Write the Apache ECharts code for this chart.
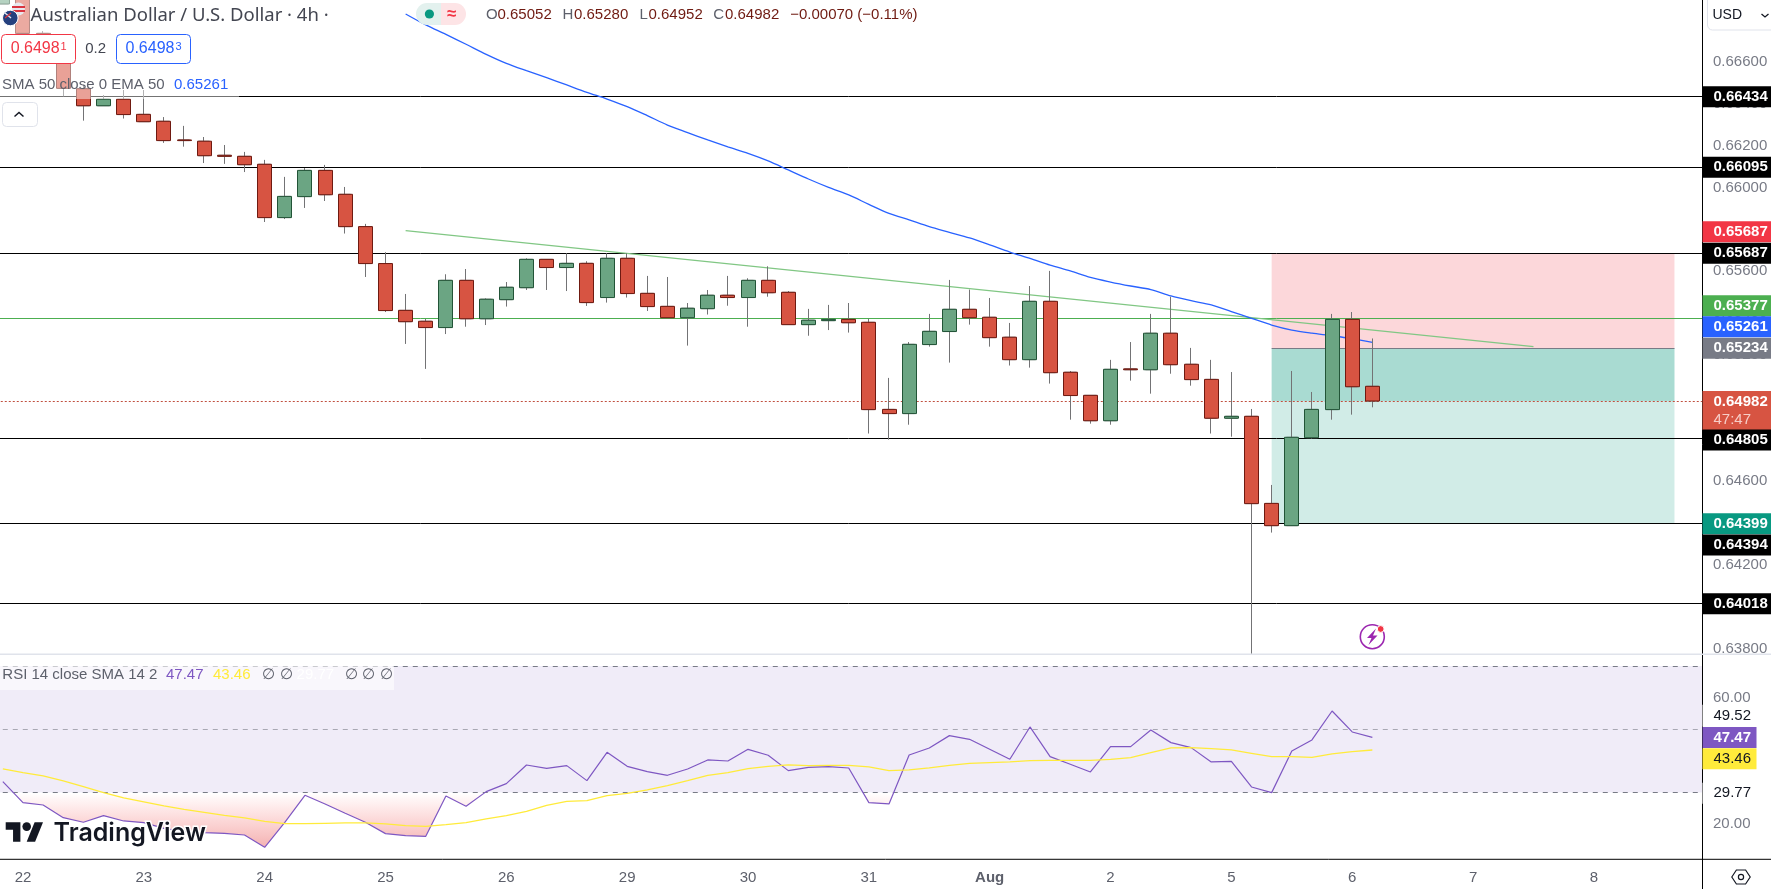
<!DOCTYPE html>
<html>
<head>
<meta charset="utf-8">
<title>AUD/USD 4h</title>
<script src="https://cdn.jsdelivr.net/npm/echarts@6/dist/echarts.min.js"></script>
<style>
  html, body { margin: 0; padding: 0; background: #fff; overflow: hidden; }
  /* first bars are cut by the left edge, so the canvas starts a bit off screen */
  #main { width: 1779px; height: 889px; margin-left: -8px; }
</style>
</head>
<body>
<div id="main"></div>
<script>
// values
const dayLabels = ['22', '23', '24', '25', '26', '29', '30', '31', 'Aug', '2', '5', '6', '7', '8']
const priceTicks = [0.666, 0.664, 0.662, 0.66, 0.658, 0.656, 0.654, 0.652, 0.65, 0.648, 0.646, 0.644, 0.642, 0.64, 0.638]
const rsiTicks = [60, 20]

const candleOpen = [0.66874, 0.66901, 0.66734, 0.66655, 0.6647, 0.66389, 0.6642, 0.66348, 0.66315, 0.66226, 0.6622, 0.66153, 0.66148, 0.6611, 0.65856, 0.65956, 0.66081, 0.65967, 0.65813, 0.65637, 0.65414, 0.65362, 0.65332, 0.65557, 0.65374, 0.65465, 0.65522, 0.65657, 0.65618, 0.65638, 0.65475, 0.65662, 0.65495, 0.65433, 0.65379, 0.65422, 0.65486, 0.65475, 0.65557, 0.655, 0.65346, 0.65365, 0.65371, 0.65357, 0.64942, 0.64922, 0.65251, 0.65313, 0.65419, 0.65381, 0.65286, 0.65179, 0.65457, 0.65119, 0.65009, 0.64888, 0.65135, 0.65131, 0.65305, 0.65157, 0.65085, 0.649, 0.64909, 0.64494, 0.64388, 0.64807, 0.64941, 0.65371, 0.65052]
const candleClose = [0.66909, 0.66734, 0.66655, 0.66472, 0.66389, 0.6642, 0.66347, 0.66313, 0.66223, 0.66223, 0.66151, 0.66148, 0.66108, 0.65856, 0.65957, 0.66081, 0.65965, 0.65813, 0.65637, 0.65413, 0.6536, 0.65332, 0.65557, 0.65374, 0.65467, 0.65524, 0.65657, 0.65618, 0.65638, 0.65451, 0.65662, 0.65494, 0.65432, 0.65379, 0.65424, 0.65486, 0.65475, 0.65557, 0.65498, 0.65346, 0.65367, 0.65371, 0.65355, 0.64941, 0.64922, 0.65252, 0.65314, 0.65419, 0.65379, 0.65284, 0.65179, 0.65457, 0.65117, 0.65008, 0.64888, 0.65133, 0.65131, 0.65305, 0.65155, 0.65084, 0.649, 0.64909, 0.64493, 0.64388, 0.64809, 0.64942, 0.65371, 0.6505, 0.64982]
const candleLow = [0.66874, 0.6672, 0.6664, 0.66434, 0.66318, 0.66389, 0.66328, 0.66313, 0.66212, 0.66194, 0.66116, 0.66112, 0.66073, 0.65835, 0.65849, 0.65902, 0.65935, 0.6578, 0.65573, 0.65406, 0.65254, 0.65135, 0.65301, 0.65336, 0.65344, 0.65432, 0.65511, 0.65511, 0.65506, 0.65435, 0.65451, 0.65475, 0.65411, 0.65379, 0.65246, 0.65394, 0.65436, 0.65336, 0.65479, 0.65346, 0.65293, 0.6532, 0.65308, 0.64827, 0.64798, 0.64869, 0.65241, 0.65165, 0.65346, 0.65241, 0.65151, 0.65141, 0.65065, 0.64893, 0.64874, 0.64869, 0.65079, 0.65017, 0.65112, 0.65055, 0.64827, 0.64812, 0.63777, 0.64355, 0.64388, 0.64803, 0.64893, 0.64917, 0.64952]
const candleHigh = [0.66912, 0.66901, 0.66745, 0.6667, 0.6649, 0.6644, 0.66464, 0.66464, 0.66335, 0.66293, 0.6624, 0.66202, 0.66169, 0.66131, 0.6605, 0.66092, 0.66107, 0.66002, 0.65826, 0.65691, 0.65492, 0.65373, 0.65586, 0.65611, 0.65471, 0.65549, 0.65662, 0.65657, 0.65686, 0.65648, 0.65686, 0.65686, 0.65578, 0.65573, 0.65449, 0.65511, 0.65578, 0.65567, 0.65624, 0.65506, 0.65421, 0.6544, 0.65449, 0.65374, 0.65092, 0.65263, 0.65397, 0.65559, 0.65513, 0.65473, 0.65354, 0.6553, 0.65602, 0.65125, 0.65009, 0.65178, 0.65263, 0.65397, 0.65479, 0.65235, 0.65178, 0.6512, 0.64944, 0.64582, 0.65125, 0.65025, 0.65397, 0.65406, 0.6528]

// EMA 50 only starts at bar 20 on this view
const emaValues = [null, null, null, null, null, null, null, null, null, null, null, null, null, null, null, null, null, null, null, null, 0.66826, 0.66774, 0.66729, 0.66682, 0.66634, 0.66591, 0.66556, 0.66523, 0.66488, 0.66453, 0.66421, 0.66385, 0.66342, 0.66297, 0.66261, 0.66226, 0.66193, 0.66162, 0.66126, 0.66083, 0.6604, 0.66, 0.65964, 0.65919, 0.65876, 0.65845, 0.65813, 0.65786, 0.65759, 0.65726, 0.65692, 0.65662, 0.6563, 0.65602, 0.65571, 0.65549, 0.6553, 0.65513, 0.65483, 0.6546, 0.6544, 0.65408, 0.65376, 0.65344, 0.6532, 0.65305, 0.65293, 0.65279, 0.65261]
const rsiValues = [33.47, 26.83, 26.09, 22.09, 20.62, 22.72, 21.04, 20.51, 18.72, 17.67, 17.35, 17.14, 16.61, 12.72, 20.62, 29.15, 26.41, 23.46, 20.62, 17.04, 16.4, 16.19, 28.94, 25.67, 30.31, 32.83, 38.73, 37.68, 38.52, 33.78, 42.73, 38.31, 36.62, 35.47, 37.47, 40.31, 39.99, 43.68, 41.79, 36.94, 37.99, 38.2, 37.78, 26.83, 26.41, 41.89, 44.1, 48, 46.84, 43.68, 40.52, 50.74, 41.36, 38.94, 36.52, 44.52, 44.52, 49.79, 45.79, 44.21, 39.68, 39.89, 31.78, 29.99, 43.15, 46.63, 55.79, 49.16, 47.47]
const rsiSmaValues = [37.47, 36.31, 35.26, 33.68, 31.89, 29.99, 28.3, 27.04, 25.78, 24.72, 23.78, 22.83, 21.99, 20.93, 20.19, 20.19, 20.3, 20.41, 20.41, 20.09, 19.56, 19.35, 19.88, 20.51, 21.67, 22.72, 24.09, 25.99, 27.25, 27.46, 29.04, 29.78, 30.83, 32.2, 33.78, 35.47, 36.31, 37.57, 38.31, 38.73, 38.52, 38.63, 38.63, 38.1, 36.94, 37.15, 37.78, 38.63, 39.26, 39.47, 39.68, 40.1, 40.21, 40.21, 40.21, 40.52, 41.05, 42.63, 44.1, 44.21, 43.89, 43.47, 42.42, 41.36, 41.36, 41.15, 42.21, 42.94, 43.46]

const blackLevels = [0.66434, 0.66095, 0.65687, 0.64805, 0.64399, 0.64018]
const greenLevel = 0.65377
const lastPrice = 0.64982
const entryPrice = 0.65234
const stopPrice = 0.65687
const targetPrice = 0.64399
const trendFrom = [20, 0.65794]
const trendTo = [76, 0.65241]
const boxFromBar = 63
const boxToBar = 83

// layout
const SHIFT = 8
const BAR_STEP = 20.14
const BAR_COUNT = 85
const GRID_LEFT = SHIFT - 7.23
const AXIS_X = 1702.5
const PRICE_BOTTOM = 654.3
const RSI_BOTTOM = 859.3
const FONT = '"Liberation Sans", Arial, sans-serif'
const AXIS_OFFSET = AXIS_X + SHIFT - (GRID_LEFT + BAR_STEP * BAR_COUNT)

const categories = []
const barLabels = []
for (let i = 0; i < BAR_COUNT; i++) {
  categories.push(String(i))
  barLabels.push((i - 1) % 6 === 0 ? dayLabels[(i - 1) / 6] : '')
}

let chart = echarts.init(document.getElementById('main'), null, {renderer: 'canvas'})

const wickData = candleOpen.map((o, i) => [o, candleClose[i], candleLow[i], candleHigh[i]])
const bodyData = candleOpen.map((o, i) => {
  let c = candleClose[i]
  return [o, c, Math.min(o, c), Math.max(o, c)]
})

function hLine(value, color, width, type) {
  return {yAxis: value, lineStyle: {color: color, width: width, type: type || 'solid'}}
}

function txt(text, x, y, fill, size, extra) {
  return {
    type: 'text', x: x, y: y, z: 6, silent: true,
    style: Object.assign({
      text: text, fill: fill,
      font: (extra && extra.weight ? extra.weight + ' ' : '') + size + 'px ' + FONT,
      verticalAlign: 'middle', align: (extra && extra.align) || 'left'
    }, extra && extra.style)
  }
}

function rect(x, y, w, h, fill, z, extra) {
  return {
    type: 'rect', z: z, silent: true,
    shape: {x: x, y: y, width: w, height: h, r: (extra && extra.r) || 0},
    style: {fill: fill, stroke: extra && extra.stroke, lineWidth: extra && extra.stroke ? 1 : 0}
  }
}

function line(x1, y1, x2, y2, color, width, z) {
  return {
    type: 'line', z: z, silent: true,
    shape: {x1: x1, y1: y1, x2: x2, y2: y2},
    style: {stroke: color, lineWidth: width}
  }
}

// price tag on the right axis
function tag(text, bg, color, y, h, w, weight) {
  h = h || 21
  return [
    rect(AXIS_X, y - h / 2, w || 1771 - AXIS_X, h, bg, 10),
    Object.assign(txt(text, 1713.5, y, color, 15, {weight: weight === undefined ? 'bold' : weight}), {z: 11})
  ]
}

let graphicEls = [
  // everything right of the axis stays white
  rect(AXIS_X, 0, 1771 - AXIS_X, 889, '#fff', 3),
  line(AXIS_X, 0, AXIS_X, 889, '#000', 1, 3.5),
  line(0, PRICE_BOTTOM, 1771, PRICE_BOTTOM, '#e0e3eb', 1.5, 3.5),
  line(0, RSI_BOTTOM, 1771, RSI_BOTTOM, '#000', 1, 3.5),

  // translucent legend rows
  rect(0, 0, 345, 33, 'rgba(255,255,255,0.5)', 5),
  rect(0, 33, 239, 66, 'rgba(255,255,255,0.45)', 5),
  rect(0, 665, 394, 25, 'rgba(255,255,255,0.6)', 5),

  // symbol flags
  {type: 'circle', z: 6, silent: true, shape: {cx: 18.4, cy: 9, r: 6.5}, style: {fill: '#e8e8ee'}},
  rect(12, 6, 13, 2, '#d8343f', 6),
  rect(12, 10, 13, 2, '#d8343f', 6),
  {type: 'circle', z: 6, silent: true, shape: {cx: 10.3, cy: 18, r: 7.8}, style: {fill: '#24407e', stroke: '#fff', lineWidth: 1}},
  line(5, 13, 11, 18, '#e8e8ee', 1.4, 7),
  line(11, 13, 5, 18, '#d8343f', 1.2, 7),

  txt('Australian Dollar / U.S. Dollar · 4h ·', 30.6, 16, '#434651', 18, {style: {font: '18.5px "Noto Sans", sans-serif'}}),

  // market status pill
  rect(416, 3, 25, 22, '#e3f1ee', 6, {r: [11, 0, 0, 11]}),
  rect(441, 3, 25, 22, '#fde4e6', 6, {r: [0, 11, 11, 0]}),
  {type: 'circle', z: 7, silent: true, shape: {cx: 429.4, cy: 14, r: 4.6}, style: {fill: '#089981'}},
  txt('≈', 451.6, 14, '#f23645', 17, {weight: 'bold', align: 'center'}),

  // OHLC row
  txt('O', 486, 15, '#5d606b', 15), txt('0.65052', 497.5, 15, '#6f1a11', 15),
  txt('H', 562.6, 15, '#5d606b', 15), txt('0.65280', 574, 15, '#6f1a11', 15),
  txt('L', 639.4, 15, '#5d606b', 15), txt('0.64952', 648.5, 15, '#6f1a11', 15),
  txt('C', 713.3, 15, '#5d606b', 15), txt('0.64982', 725, 15, '#6f1a11', 15),
  txt('−0.00070 (−0.11%)', 790.2, 15, '#6f1a11', 15),

  // sell / buy boxes
  rect(1.5, 34.5, 74, 29, '#fff', 6, {r: 4, stroke: '#f23645'}),
  txt('0.6498', 10.7, 49, '#f23645', 16),
  txt('1', 60.5, 47, '#f23645', 11),
  txt('0.2', 95.7, 49, '#434651', 15, {align: 'center'}),
  rect(116.5, 34.5, 74, 29, '#fff', 6, {r: 4, stroke: '#2962ff'}),
  txt('0.6498', 125.5, 49, '#2962ff', 16),
  txt('3', 175.5, 47, '#2962ff', 11),

  txt('SMA 50 close 0 EMA 50', 2, 85, '#5d606b', 15),
  txt('0.65261', 174, 85, '#2962ff', 15),

  // collapse button
  rect(2.5, 102.5, 35, 24, '#fff', 6, {r: 4, stroke: '#e0e3eb'}),
  {type: 'polyline', z: 7, silent: true, shape: {points: [[14.5, 116.5], [19, 112.5], [23.5, 116.5]]}, style: {stroke: '#131722', lineWidth: 1.5, fill: 'none'}},

  // RSI legend
  txt('RSI 14 close SMA 14 2', 2.3, 675, '#5d606b', 15),
  txt('47.47', 166, 675, '#7e57c2', 15),
  txt('43.46', 213, 675, '#ffeb3b', 15),
  txt('∅', 262, 675, '#5d606b', 15),
  txt('∅', 280, 675, '#5d606b', 15),
  txt('29.77', 296.6, 675, '#fff', 15),
  txt('∅', 345, 675, '#5d606b', 15),
  txt('∅', 362, 675, '#5d606b', 15),
  txt('∅', 380, 675, '#5d606b', 15),

  // watermark logo
  {type: 'polygon', z: 6, silent: true, shape: {points: [[5.7, 822.3], [20.4, 822.3], [20.4, 841.7], [13.05, 841.7], [13.05, 829.8], [5.7, 829.8]]}, style: {fill: '#131722'}},
  {type: 'polygon', z: 6, silent: true, shape: {points: [[26.7, 841.7], [34.6, 822.3], [43, 822.3], [35.1, 841.7]]}, style: {fill: '#131722'}},
  {type: 'circle', z: 6, silent: true, shape: {cx: 26.7, cy: 826.6, r: 4.3}, style: {fill: '#131722'}},
  txt('TradingView', 53.6, 833, '#131722', 25, {
    style: {stroke: '#fff', lineWidth: 3, font: '600 25px Inter, ' + FONT}
  }),

  // USD selector
  rect(1707.5, -6, 70, 36, '#fff', 10, {r: 5, stroke: '#e0e3eb'}),
  Object.assign(txt('USD', 1712.5, 15, '#131722', 14), {z: 11}),
  {type: 'polyline', z: 11, silent: true, shape: {points: [[1761.5, 14], [1765, 17], [1768.5, 14]]}, style: {stroke: '#131722', lineWidth: 1.3, fill: 'none'}},

  // lightning badge
  {type: 'circle', z: 6, silent: true, shape: {cx: 1372.3, cy: 636.7, r: 12}, style: {fill: '#fff', stroke: '#9c27b0', lineWidth: 1.6}},
  {type: 'polygon', z: 7, silent: true, shape: {points: [[1376, 628.5], [1367, 638], [1371.5, 638], [1368.5, 645], [1377.5, 635.5], [1373, 635.5]]}, style: {fill: '#9c27b0'}},
  {type: 'circle', z: 8, silent: true, shape: {cx: 1380.7, cy: 629, r: 3.4}, style: {fill: '#f23645', stroke: '#fff', lineWidth: 1}},

  // settings hexagon
  {type: 'polygon', z: 6, silent: true, shape: {points: [[1731.8, 877], [1736.4, 870], [1745.6, 870], [1750.2, 877], [1745.6, 884], [1736.4, 884]]}, style: {fill: 'none', stroke: '#131722', lineWidth: 1.2}},
  {type: 'circle', z: 6, silent: true, shape: {cx: 1741, cy: 877, r: 2.6}, style: {fill: 'none', stroke: '#131722', lineWidth: 1.2}}
]

graphicEls = graphicEls.concat(
  tag('0.66434', '#000', '#fff', 96.7),
  tag('0.66095', '#000', '#fff', 167.3),
  tag('0.65687', '#f23645', '#fff', 231.7),
  tag('0.65687', '#000', '#fff', 253.3),
  tag('0.65377', '#4caf50', '#fff', 305.7),
  tag('0.65261', '#2962ff', '#fff', 326.7),
  tag('0.65234', '#787b86', '#fff', 348.3),
  [rect(AXIS_X, 391, 1771 - AXIS_X, 39, '#d75442', 10),
    Object.assign(txt('0.64982', 1713.5, 401.5, '#fff', 15, {weight: 'bold'}), {z: 11}),
    Object.assign(txt('47:47', 1713.5, 419.5, '#f7cdc7', 15), {z: 11})],
  tag('0.64805', '#000', '#fff', 440),
  tag('0.64399', '#089981', '#fff', 523.7),
  tag('0.64394', '#000', '#fff', 545),
  tag('0.64018', '#000', '#fff', 603.7),
  tag('49.52', '#fff', '#131722', 715.7, 22, 0, ''),
  tag('47.47', '#7e57c2', '#fff', 737.6, 21, 54),
  tag('43.46', '#ffeb3b', '#131722', 758.7, 21, 54, ''),
  tag('29.77', '#fff', '#131722', 793.3, 21, 0, '')
)

const option = {
  animation: false,
  backgroundColor: '#fff',
  textStyle: {fontFamily: FONT},
  grid: [
    {left: GRID_LEFT, width: BAR_STEP * BAR_COUNT, top: 0, height: PRICE_BOTTOM},
    {left: GRID_LEFT, width: BAR_STEP * BAR_COUNT, top: PRICE_BOTTOM, height: RSI_BOTTOM - PRICE_BOTTOM}
  ],
  xAxis: [
    {type: 'category', gridIndex: 0, data: categories, show: false},
    {
      type: 'category', gridIndex: 1, data: categories,
      axisLine: {show: false}, axisTick: {show: false}, splitLine: {show: false},
      axisLabel: {
        margin: 11, fontSize: 15, color: '#5d606b',
        interval: function (i) { return barLabels[i] !== '' },
        formatter: function (v, i) {
          return barLabels[i] === 'Aug' ? '{b|Aug}' : barLabels[i]
        },
        rich: {b: {fontWeight: 'bold', fontSize: 15, color: '#5d606b'}}
      }
    }
  ],
  yAxis: [
    {
      type: 'value', gridIndex: 0, position: 'right', offset: AXIS_OFFSET,
      min: 0.66434 - (PRICE_BOTTOM - 96.3) / 20985, max: 0.66434 + 96.3 / 20985,
      z: 4, scale: true,
      axisLine: {show: false}, axisTick: {show: false}, splitLine: {show: false},
      axisLabel: {
        customValues: priceTicks, margin: 10.5, fontSize: 15, color: '#787b86',
        formatter: function (v) { return v.toFixed(5) }
      }
    },
    {
      type: 'value', gridIndex: 1, position: 'right', offset: AXIS_OFFSET,
      min: 50 - (RSI_BOTTOM - 729.3) / 3.165, max: 50 + (729.3 - PRICE_BOTTOM) / 3.165,
      z: 4,
      axisLine: {show: false}, axisTick: {show: false}, splitLine: {show: false},
      axisLabel: {
        customValues: rsiTicks, margin: 10.5, fontSize: 15, color: '#787b86',
        formatter: function (v) { return v.toFixed(2) }
      }
    }
  ],
  series: [
    {
      name: 'EMA 50', type: 'line', xAxisIndex: 0, yAxisIndex: 0, z: 1.5,
      data: emaValues, showSymbol: false, silent: true, smooth: 0.3,
      lineStyle: {color: '#2962ff', width: 1.3},
      markArea: {
        silent: true, z: 0.5,
        data: [
          [{xAxis: boxFromBar, yAxis: stopPrice, itemStyle: {color: 'rgba(242,54,69,0.2)'}}, {xAxis: boxToBar, yAxis: entryPrice}],
          [{xAxis: boxFromBar, yAxis: entryPrice, itemStyle: {color: 'rgba(8,153,129,0.19)'}}, {xAxis: boxToBar, yAxis: targetPrice}],
          [{xAxis: boxFromBar, yAxis: entryPrice, itemStyle: {color: 'rgba(8,153,129,0.2)'}}, {xAxis: boxToBar, yAxis: lastPrice}]
        ]
      },
      markLine: {
        silent: true, z: 1, symbol: 'none', label: {show: false}, precision: 5,
        data: blackLevels.map(v => hLine(v, '#000', 1)).concat([
          hLine(greenLevel, '#4caf50', 1),
          hLine(lastPrice, '#c0503f', 1, [2, 2]),
          [{coord: [boxFromBar, entryPrice], lineStyle: {color: '#787b86', width: 1, type: 'solid'}}, {coord: [boxToBar, entryPrice]}],
          [{coord: trendFrom, lineStyle: {color: '#81c784', width: 1.3, type: 'solid'}}, {coord: trendTo}]
        ])
      }
    },
    {
      name: 'wicks', type: 'candlestick', xAxisIndex: 0, yAxisIndex: 0, z: 2, silent: true,
      barWidth: 12, data: wickData,
      itemStyle: {color: '#737375', color0: '#737375', borderColor: '#737375', borderColor0: '#737375', borderColorDoji: '#737375', borderWidth: 1}
    },
    {
      name: 'bodies', type: 'candlestick', xAxisIndex: 0, yAxisIndex: 0, z: 2.5, silent: true,
      barWidth: 14.5, data: bodyData,
      itemStyle: {color: '#6ba583', color0: '#d75442', borderColor: '#225437', borderColor0: '#6f1a11', borderColorDoji: '#6f1a11', borderWidth: 1}
    },
    {
      name: 'RSI', type: 'line', xAxisIndex: 1, yAxisIndex: 1, z: 2,
      data: rsiValues, showSymbol: false, silent: true,
      lineStyle: {color: '#7e57c2', width: 1.2},
      // below 30 only: the gradient is clear above that level
      areaStyle: {
        origin: 30,
        color: new echarts.graphic.LinearGradient(0, 792.6, 0, 846, [
          {offset: 0, color: 'rgba(255,60,60,0)'},
          {offset: 1, color: 'rgba(225,60,60,0.55)'}
        ], true)
      },
      markArea: {
        silent: true, z: 0.5,
        data: [[{yAxis: 70, itemStyle: {color: 'rgba(126,87,194,0.115)'}}, {yAxis: 30}]]
      },
      markLine: {
        silent: true, z: 1, symbol: 'none', label: {show: false}, precision: 2,
        data: [
          hLine(70, '#787b86', 1, [5, 5]),
          hLine(50, 'rgba(120,123,134,0.6)', 1, [5, 5]),
          hLine(30, '#787b86', 1, [5, 5])
        ]
      }
    },
    {
      name: 'RSI SMA', type: 'line', xAxisIndex: 1, yAxisIndex: 1, z: 2.2,
      data: rsiSmaValues, showSymbol: false, silent: true,
      lineStyle: {color: '#ffeb3b', width: 1.3}
    }
  ],
  // overlay items are placed in screen pixels, so shift them with the canvas
  graphic: {elements: [{type: 'group', x: SHIFT, y: 0, children: graphicEls}]}
}

chart.setOption(option)
</script>
</body>
</html>
